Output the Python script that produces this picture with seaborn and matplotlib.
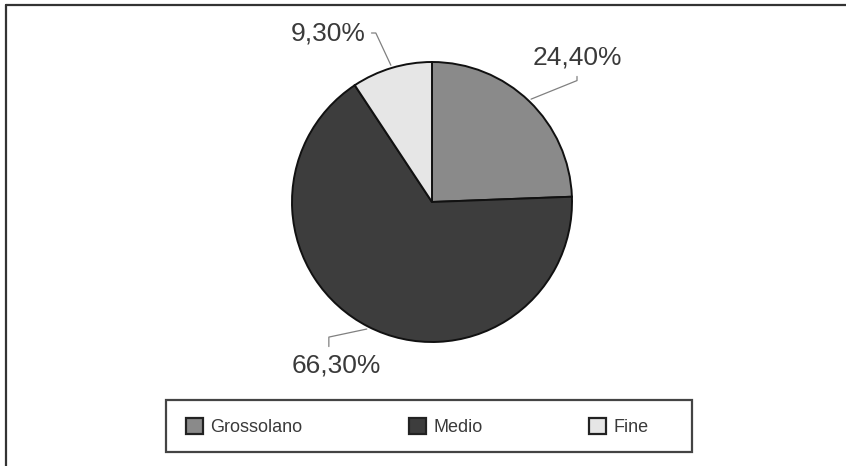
import matplotlib
matplotlib.use("Agg")
import matplotlib.pyplot as plt
from matplotlib.lines import Line2D
from matplotlib.patches import Patch, Rectangle
import numpy as np
import seaborn as sns

# data
categories = ["Grossolano", "Medio", "Fine"]
shares = [24.4, 66.3, 9.3]
pct_labels = ["24,40%", "66,30%", "9,30%"]
colors = ["#8a8a8a", "#3d3d3d", "#e6e6e6"]

sns.set_theme(style="white")
plt.rcParams["font.family"] = ["Liberation Sans", "DejaVu Sans"]

W, H = 846, 466
fig = plt.figure(figsize=(W / 100, H / 100), dpi=100)

# pie axes: centre (432, 202) px, radius 140 px
cx, cy, r = 432, 202, 140
ax = fig.add_axes([(cx - r) / W, (H - cy - r) / H, 2 * r / W, 2 * r / H])
wedges, _ = ax.pie(shares, colors=colors, startangle=90, counterclock=False,
                   radius=1, wedgeprops=dict(edgecolor="#111111", linewidth=1.4))
ax.set_xlim(-1, 1)
ax.set_ylim(-1, 1)
ax.set_aspect("equal")
ax.axis("off")


def px(x, y):
    return ((x - cx) / r, (cy - y) / r)


# label positions (pixels) and leader line styles
label_pos = [(577, 57), (336, 366), (328, 33)]
relpos = [(0.5, 0.0), (0.42, 1.0), (1.0, 0.5)]
conn = ["angle,angleA=90,angleB=22,rad=0",
        "angle,angleA=90,angleB=12,rad=0",
        "angle,angleA=0,angleB=115,rad=0"]
shrinkA = [3, 3, 2]

for w, lab, pos, rp, cs, sa in zip(wedges, pct_labels, label_pos, relpos, conn, shrinkA):
    mid = np.deg2rad((w.theta1 + w.theta2) / 2)
    xy = (1.02 * np.cos(mid), 1.02 * np.sin(mid))
    ax.annotate(lab, xy=xy, xytext=px(*pos), ha="center", va="center",
                fontsize=19, color="#3a3a3a", annotation_clip=False,
                arrowprops=dict(arrowstyle="-", color="#808080", lw=0.9,
                                connectionstyle=cs, relpos=rp,
                                shrinkA=sa, shrinkB=0))

# legend box (drawn separately so the entries can sit like the original)
lx0, lx1, ly0, ly1 = 166, 692, 400, 452
fig.add_artist(Rectangle((lx0 / W, 1 - ly1 / H), (lx1 - lx0) / W, (ly1 - ly0) / H,
                         transform=fig.transFigure, facecolor="white",
                         edgecolor="#444444", linewidth=1.6, zorder=1))
handles = [Patch(facecolor=c, edgecolor="#222222", linewidth=1.6) for c in colors]
leg = fig.legend(handles, categories, loc="center left", ncol=3,
                 bbox_to_anchor=(186 / W, 1 - 427 / H), bbox_transform=fig.transFigure,
                 fontsize=13, frameon=False, handlelength=0.95, handleheight=0.95,
                 handletextpad=0.4, columnspacing=5.9, borderpad=0, borderaxespad=0)
leg.set_zorder(2)
for t in leg.get_texts():
    t.set_color("#3a3a3a")

# outer frame lines (top and left only)
fig.add_artist(Line2D([6 / W, 1], [1 - 5 / H, 1 - 5 / H], color="#333333", lw=1.6,
                      transform=fig.transFigure))
fig.add_artist(Line2D([6 / W, 6 / W], [0, 1 - 5 / H], color="#333333", lw=1.6,
                      transform=fig.transFigure))

fig.savefig("out.png", dpi=100, facecolor="white")
